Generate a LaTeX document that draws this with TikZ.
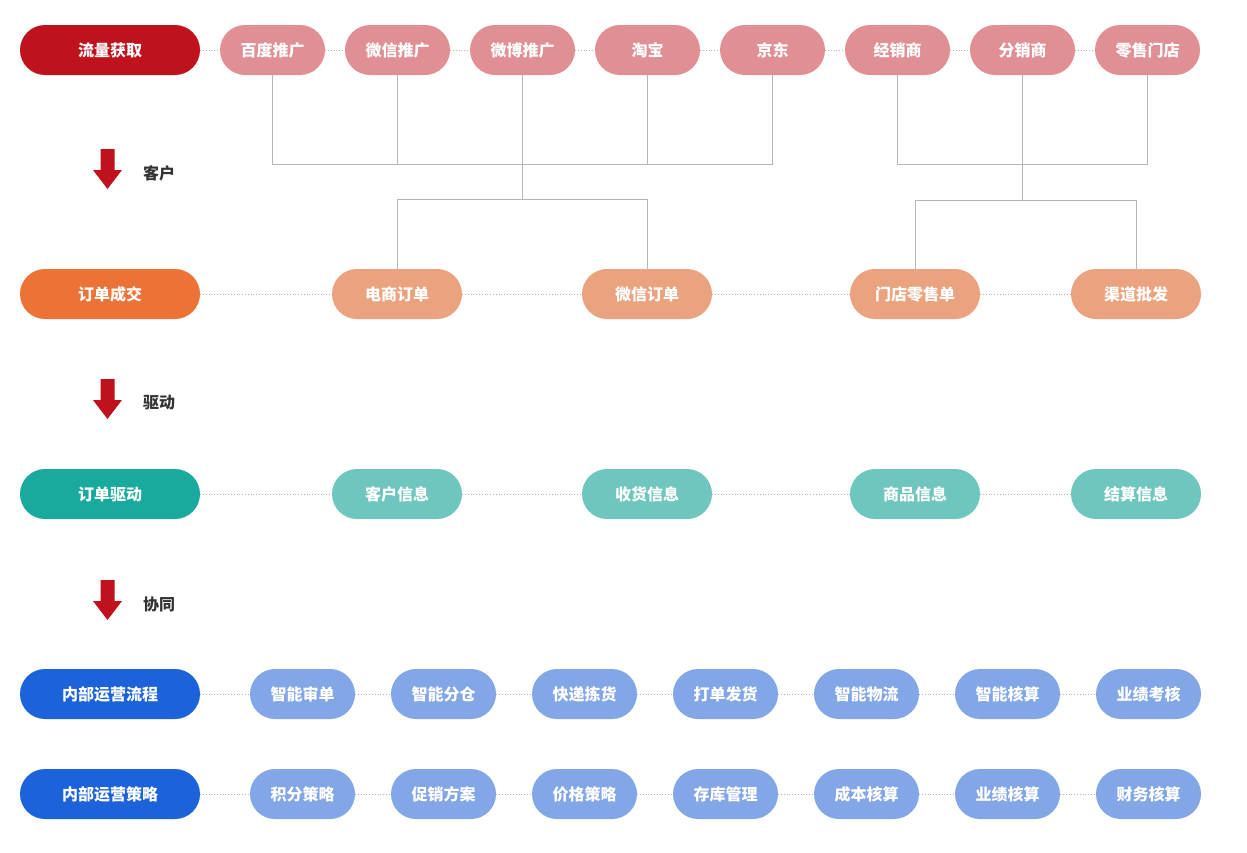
\documentclass[tikz,border=0pt]{standalone}
\usepackage{fontspec}
\newfontfamily\cjk{Noto Sans CJK SC}
\usetikzlibrary{positioning}
\definecolor{cRed}{HTML}{C0121C}
\definecolor{cPink}{HTML}{E09094}
\definecolor{cOrange}{HTML}{EC7236}
\definecolor{cLOrange}{HTML}{EBA37F}
\definecolor{cTeal}{HTML}{1AA99D}
\definecolor{cLTeal}{HTML}{6EC6BE}
\definecolor{cBlue}{HTML}{1C62DB}
\definecolor{cLBlue}{HTML}{82A6E6}
\definecolor{cLine}{HTML}{B5B5B5}
\definecolor{cText}{HTML}{333333}
\tikzset{
  pill/.style={rectangle, rounded corners=25pt, minimum height=50pt, inner sep=0pt,
    text=white, font=\cjk\bfseries\fontsize{16}{18}\selectfont},
  head/.style={pill, minimum width=180pt},
  small/.style={pill, minimum width=105pt},
  mid/.style={pill, minimum width=130pt},
  dotline/.style={draw=cLine, dotted, line width=0.8pt},
  tree/.style={draw=cLine, line width=1pt},
  stagelabel/.style={text=cText, font=\cjk\bfseries\fontsize{16}{18}\selectfont, inner sep=0pt},
  downarrow/.style={fill=cRed, draw=none}
}
\begin{document}
\begin{tikzpicture}[x=1pt,y=-1pt]
\useasboundingbox (0,0) rectangle (1247,852);
% Row 1
\node[head, fill=cRed] (r1) at (110,50) {流量获取};
\node[small, fill=cPink] (bd) at (272.5,50) {百度推广};
\node[small, fill=cPink] (wx) at (397.5,50) {微信推广};
\node[small, fill=cPink] (wb) at (522.5,50) {微博推广};
\node[small, fill=cPink] (tb) at (647.5,50) {淘宝};
\node[small, fill=cPink] (jd) at (772.5,50) {京东};
\node[small, fill=cPink] (jx) at (897.5,50) {经销商};
\node[small, fill=cPink] (fx) at (1022.5,50) {分销商};
\node[small, fill=cPink] (ls) at (1147.5,50) {零售门店};
\foreach \a/\b in {r1/bd,bd/wx,wx/wb,wb/tb,tb/jd,jd/jx,jx/fx,fx/ls}
  \draw[dotline] (\a.east) -- (\b.west);
% Row 2
\node[head, fill=cOrange] (r2) at (110,294) {订单成交};
\node[mid, fill=cLOrange] (ds) at (397,294) {电商订单};
\node[mid, fill=cLOrange] (wd) at (647,294) {微信订单};
\node[mid, fill=cLOrange] (md) at (915,294) {门店零售单};
\node[mid, fill=cLOrange] (qd) at (1136,294) {渠道批发};
\foreach \a/\b in {r2/ds,ds/wd,wd/md,md/qd}
  \draw[dotline] (\a.east) -- (\b.west);
% Row 3
\node[head, fill=cTeal] (r3) at (110,494) {订单驱动};
\node[mid, fill=cLTeal] (kh) at (397,494) {客户信息};
\node[mid, fill=cLTeal] (sh) at (647,494) {收货信息};
\node[mid, fill=cLTeal] (sp) at (915,494) {商品信息};
\node[mid, fill=cLTeal] (js) at (1136,494) {结算信息};
\foreach \a/\b in {r3/kh,kh/sh,sh/sp,sp/js}
  \draw[dotline] (\a.east) -- (\b.west);
% Row 4
\node[head, fill=cBlue] (r4) at (110,694) {内部运营流程};
\node[small, fill=cLBlue] (a1) at (302.5,694) {智能审单};
\node[small, fill=cLBlue] (a2) at (443.5,694) {智能分仓};
\node[small, fill=cLBlue] (a3) at (584.5,694) {快递拣货};
\node[small, fill=cLBlue] (a4) at (725.5,694) {打单发货};
\node[small, fill=cLBlue] (a5) at (866.5,694) {智能物流};
\node[small, fill=cLBlue] (a6) at (1007.5,694) {智能核算};
\node[small, fill=cLBlue] (a7) at (1148.5,694) {业绩考核};
\foreach \a/\b in {r4/a1,a1/a2,a2/a3,a3/a4,a4/a5,a5/a6,a6/a7}
  \draw[dotline] (\a.east) -- (\b.west);
% Row 5
\node[head, fill=cBlue] (r5) at (110,794) {内部运营策略};
\node[small, fill=cLBlue] (b1) at (302.5,794) {积分策略};
\node[small, fill=cLBlue] (b2) at (443.5,794) {促销方案};
\node[small, fill=cLBlue] (b3) at (584.5,794) {价格策略};
\node[small, fill=cLBlue] (b4) at (725.5,794) {存库管理};
\node[small, fill=cLBlue] (b5) at (866.5,794) {成本核算};
\node[small, fill=cLBlue] (b6) at (1007.5,794) {业绩核算};
\node[small, fill=cLBlue] (b7) at (1148.5,794) {财务核算};
\foreach \a/\b in {r5/b1,b1/b2,b2/b3,b3/b4,b4/b5,b5/b6,b6/b7}
  \draw[dotline] (\a.east) -- (\b.west);
% Tree connectors, left group
\coordinate (j1) at (522.5,164);
\coordinate (j2) at (522.5,199);
\draw[tree] (bd.south) |- (jd.south |- j1) -- (jd.south);
\draw[tree] (wx.south) -- (wx.south |- j1);
\draw[tree] (tb.south) -- (tb.south |- j1);
\draw[tree] (wb.south) -- (j1) -- (j2);
\draw[tree] (ds.north) |- (wd.north |- j2) -- (wd.north);
% Tree connectors, right group
\coordinate (k1) at (1022.5,164);
\coordinate (k2) at (1022.5,200);
\draw[tree] (jx.south) |- (ls.south |- k1) -- (ls.south);
\draw[tree] (fx.south) -- (k1) -- (k2);
\draw[tree] (md.north) |- (qd.north |- k2) -- (qd.north);
% Stage arrows and labels
\foreach \y/\t/\n in {149/客户/s1, 379/驱动/s2, 580/协同/s3}{
  \fill[downarrow] (100.5,\y) -- (114.5,\y) -- (114.5,\y+21) -- (122,\y+21)
     -- (107.5,\y+40) -- (93,\y+21) -- (100.5,\y+21) -- cycle;
  \node[stagelabel, anchor=west] (\n) at (143,\y+24) {\t};
}
\end{tikzpicture}
\end{document}
